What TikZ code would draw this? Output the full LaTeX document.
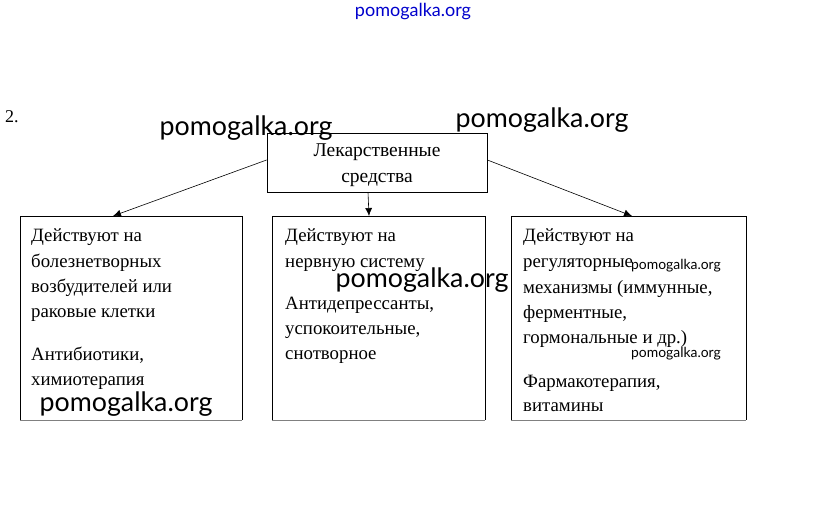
\documentclass[tikz,border=0pt]{standalone}
\usepackage{fontspec}
\setmainfont{Liberation Serif}
\newfontfamily\wmfont{Lato}
\usetikzlibrary{arrows.meta}
\tikzset{
  box/.style={draw=black, line width=0.8pt},
  txt/.style={anchor=base west, inner sep=0pt, yshift=-6pt, font=\fontsize{18.8}{18.8}\selectfont},
  conn/.style={draw=black, line width=0.6pt, -{Latex[length=8pt,width=7pt]}},
  wmbig/.style={inner sep=0pt, font=\wmfont\fontsize{26.8}{26.8}\selectfont},
  wmsmall/.style={inner sep=0pt, font=\wmfont\fontsize{13.9}{13.9}\selectfont},
}
\begin{document}
\begin{tikzpicture}[x=1pt,y=-1pt]
\useasboundingbox (0,0) rectangle (824,529);
% top box
\node[box, minimum width=220pt, minimum height=59pt, inner sep=0pt] (top) at (377,162.5) {};
\node[inner sep=0pt, align=center, font=\fontsize{19.5}{26}\selectfont] (toptxt) at (377,165) {Лекарственные\\средства};
% lower boxes
\draw[box] (20,420) |- (242,216) -- (242,420);
\draw[gray, line width=0.8pt] (20,420) -- (242,420);
\coordinate (lt) at (113,216);
\draw[box] (272,420) |- (485,216) -- (485,420);
\draw[gray, line width=0.8pt] (272,420) -- (485,420);
\coordinate (mt) at (369,216);
\draw[box] (511,420) |- (746,216) -- (746,420);
\draw[gray, line width=0.8pt] (511,420) -- (746,420);
\coordinate (rt) at (632,216);
% connectors
\draw[conn] (top.west |- 0,160) -- (lt);
\draw[conn] (top.south -| 368,0) -- (mt);
\draw[conn] (top.east |- 0,160) -- (rt);
% number
\node[inner sep=0pt, anchor=west, font=\fontsize{18}{18}\selectfont] (num) at (5,117) {2.};
% left texts
\node[txt] (l1) at (31,236) {Действуют на};
\node[txt] (l2) at (31,261) {болезнетворных};
\node[txt] (l3) at (31,286) {возбудителей или};
\node[txt] (l4) at (31,311) {раковые клетки};
\node[txt] (l5) at (31,354) {Антибиотики,};
\node[txt] (l6) at (31,379) {химиотерапия};
% middle texts
\node[txt] (m1) at (285,236) {Действуют на};
\node[txt] (m2) at (285,261) {нервную систему};
\node[txt] (m3) at (285,303) {Антидепрессанты,};
\node[txt] (m4) at (285,328) {успокоительные,};
\node[txt] (m5) at (285,353) {снотворное};
% right texts
\node[txt] (r1) at (523,236) {Действуют на};
\node[txt] (r2) at (523,261) {регуляторные};
\node[txt] (r3) at (523,287) {механизмы (иммунные,};
\node[txt] (r4) at (523,312) {ферментные,};
\node[txt] (r5) at (523,337) {гормональные и др.)};
\node[txt] (r6) at (523,381) {Фармакотерапия,};
\node[txt] (r7) at (523,405) {витамины};
% watermarks
\node[inner sep=0pt, font=\wmfont\fontsize{18}{18}\selectfont, text=blue!80!black] (w0) at (413,12) {pomogalka.org};
\node[wmbig] (w1) at (246,128) {pomogalka.org};
\node[wmbig] (w2) at (542,120) {pomogalka.org};
\node[wmbig] (w3) at (422,280) {pomogalka.org};
\node[wmbig] (w4) at (126,404) {pomogalka.org};
\node[wmsmall] (w5) at (676,266) {pomogalka.org};
\node[wmsmall] (w6) at (676,354) {pomogalka.org};
\end{tikzpicture}
\end{document}
